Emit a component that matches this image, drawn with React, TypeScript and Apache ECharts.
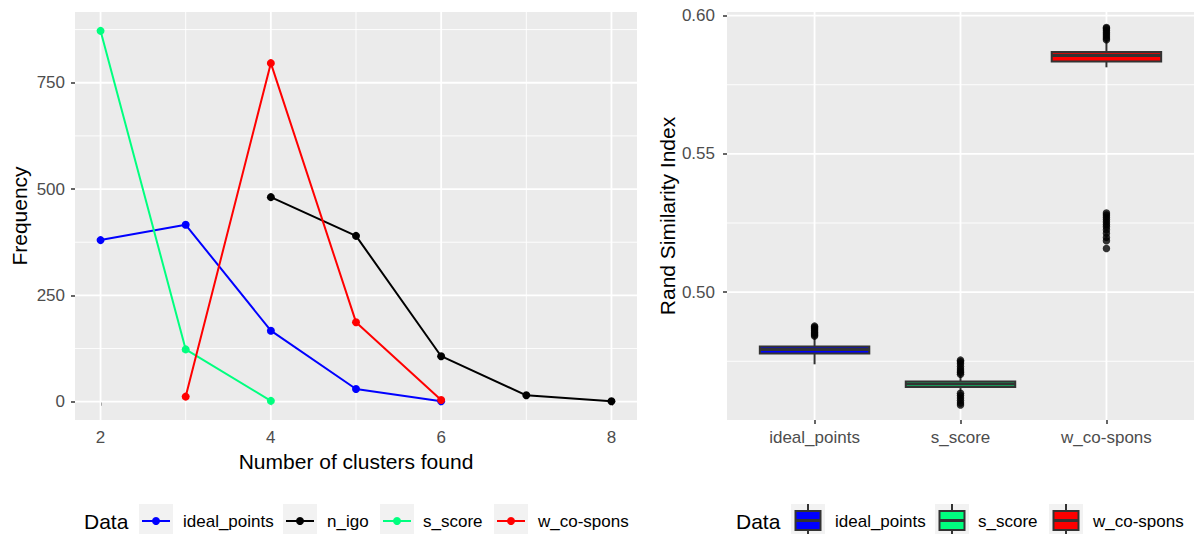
import React, { useEffect, useRef } from "react";
import * as echarts from "echarts";

// ---------- Left panel data (frequency of number of clusters found) ----------
const idealPointsX = [2, 3, 4, 5, 6];
const idealPointsFreq = [380, 416, 167, 30, 1];
const nIgoX = [4, 5, 6, 7, 8];
const nIgoFreq = [481, 390, 107, 15, 1];
const sScoreX = [2, 3, 4];
const sScoreFreq = [872, 123, 2];
const wCoSponsX = [3, 4, 5, 6];
const wCoSponsFreq = [12, 796, 187, 4];

const lineNames = ["ideal_points", "n_igo", "s_score", "w_co-spons"];
const lineColors = ["#0000FF", "#000000", "#00FF7F", "#FF0000"];

// ---------- Right panel data (Rand similarity index boxplots) ----------
const boxCategories = ["ideal_points", "s_score", "w_co-spons"];
const boxColors = ["#0000FF", "#00FF7F", "#FF0000"];
const whiskerLow = [0.4739, 0.464, 0.5813];
const quartile1 = [0.4778, 0.4657, 0.58337];
const medians = [0.47925, 0.46678, 0.58565];
const quartile3 = [0.48033, 0.46768, 0.5868];
const whiskerHigh = [0.4838, 0.47, 0.5911];
const idealOutliers = [0.4841, 0.4846, 0.4851, 0.4856, 0.4862, 0.4868, 0.4873, 0.4877];
const sScoreOutliers = [0.4703, 0.4709, 0.4715, 0.4722, 0.4731, 0.4741, 0.4748, 0.4754, 0.4634, 0.4626, 0.4617, 0.4608, 0.4599, 0.4592];
const wCoSponsOutliers = [0.5913, 0.5919, 0.5926, 0.5933, 0.594, 0.5947, 0.5953, 0.5957, 0.5286, 0.5279, 0.5271, 0.5263, 0.5254, 0.5245, 0.5236, 0.5226, 0.5213, 0.5198, 0.5186, 0.5158];

// ---------- Axis breaks ----------
const leftXTicks = [2, 4, 6, 8];
const leftXMinor = [3, 5, 7];
const leftYTicks = [0, 250, 500, 750];
const leftYMinor = [125, 375, 625, 875];
const rightXTicks = [1, 2, 3];
const rightYTicks = [0.5, 0.55, 0.6];
const rightYMinor = [0.475, 0.525, 0.575];

const FONT = "'Liberation Sans', Arial, sans-serif";
const TICK_COLOR = "#4D4D4D";

function gridData(xMajor: number[], xMinor: number[], yMajor: number[], yMinor: number[]) {
  const d: number[][] = [];
  xMinor.forEach((v) => d.push([0, v, 0]));
  yMinor.forEach((v) => d.push([1, v, 0]));
  xMajor.forEach((v) => d.push([0, v, 1]));
  yMajor.forEach((v) => d.push([1, v, 1]));
  return d;
}

function gridRender(refY: number, refX: number) {
  return (params: any, api: any) => {
    const cs = params.coordSys;
    const dim = api.value(0);
    const v = api.value(1);
    const major = api.value(2) === 1;
    const lw = major ? 1.8 : 0.9;
    if (dim === 0) {
      const x = api.coord([v, refY])[0];
      return {
        type: "line",
        shape: { x1: x, y1: cs.y, x2: x, y2: cs.y + cs.height },
        style: { stroke: "#FFFFFF", lineWidth: lw },
      };
    }
    const y = api.coord([refX, v])[1];
    return {
      type: "line",
      shape: { x1: cs.x, y1: y, x2: cs.x + cs.width, y2: y },
      style: { stroke: "#FFFFFF", lineWidth: lw },
    };
  };
}

export default function App() {
  const ref = useRef<HTMLDivElement>(null);

  useEffect(() => {
    if (!ref.current) return;
    const chart = echarts.init(ref.current, undefined, { renderer: "svg" });

    const lineXs = [idealPointsX, nIgoX, sScoreX, wCoSponsX];
    const lineYs = [idealPointsFreq, nIgoFreq, sScoreFreq, wCoSponsFreq];

    const lineSeries = lineNames.map((name, i) => ({
      name,
      type: "line",
      xAxisIndex: 0,
      yAxisIndex: 0,
      data: lineXs[i].map((x, j) => [x, lineYs[i][j]]),
      symbol: "circle",
      symbolSize: 8,
      showSymbol: true,
      lineStyle: { color: lineColors[i], width: 2 },
      itemStyle: { color: lineColors[i] },
      z: 3,
      silent: true,
    }));

    const boxData = boxCategories.map((_, i) => [
      i + 1,
      whiskerLow[i],
      quartile1[i],
      medians[i],
      quartile3[i],
      whiskerHigh[i],
      i,
    ]);

    const outlierData: number[][] = [];
    idealOutliers.forEach((v) => outlierData.push([1, v]));
    sScoreOutliers.forEach((v) => outlierData.push([2, v]));
    wCoSponsOutliers.forEach((v) => outlierData.push([3, v]));

    const axisTickStyle = { show: true, length: 4, lineStyle: { color: "#333333", width: 1.5 } };

    // legend graphics
    const graphics: any[] = [];
    const legY = 521;
    graphics.push({
      type: "text",
      x: 84,
      y: legY,
      style: { text: "Data", font: `21px ${FONT}`, fill: "#000", verticalAlign: "middle" },
    });
    const lKeyX = [139, 283, 380, 494];
    const lTextX = [183, 327, 423, 538];
    lineNames.forEach((name, i) => {
      graphics.push({ type: "rect", shape: { x: lKeyX[i], y: 504, width: 34, height: 34 }, style: { fill: "#F2F2F2" } });
      graphics.push({
        type: "line",
        shape: { x1: lKeyX[i] + 3, y1: legY, x2: lKeyX[i] + 31, y2: legY },
        style: { stroke: lineColors[i], lineWidth: 2 },
      });
      graphics.push({ type: "circle", shape: { cx: lKeyX[i] + 17, cy: legY, r: 4 }, style: { fill: lineColors[i] } });
      graphics.push({
        type: "text",
        x: lTextX[i],
        y: legY,
        style: { text: name, font: `17px ${FONT}`, fill: "#000", verticalAlign: "middle" },
      });
    });

    graphics.push({
      type: "text",
      x: 736,
      y: legY,
      style: { text: "Data", font: `21px ${FONT}`, fill: "#000", verticalAlign: "middle" },
    });
    const rKeyX = [791, 935, 1049];
    const rTextX = [835, 978, 1093];
    boxCategories.forEach((name, i) => {
      const kx = rKeyX[i];
      graphics.push({ type: "rect", shape: { x: kx, y: 504, width: 34, height: 34 }, style: { fill: "#F2F2F2" } });
      graphics.push({
        type: "line",
        shape: { x1: kx + 17, y1: 504, x2: kx + 17, y2: 538 },
        style: { stroke: "#333333", lineWidth: 2 },
      });
      graphics.push({
        type: "rect",
        shape: { x: kx + 4.5, y: 511, width: 25, height: 19 },
        style: { fill: boxColors[i], stroke: "#333333", lineWidth: 2 },
      });
      graphics.push({
        type: "line",
        shape: { x1: kx + 4.5, y1: legY - 0.5, x2: kx + 29.5, y2: legY - 0.5 },
        style: { stroke: "#333333", lineWidth: 3 },
      });
      graphics.push({
        type: "text",
        x: rTextX[i],
        y: legY,
        style: { text: name, font: `17px ${FONT}`, fill: "#000", verticalAlign: "middle" },
      });
    });

    const option: any = {
      animation: false,
      textStyle: { fontFamily: FONT },
      grid: [
        { left: 75, top: 12, width: 562, height: 408, show: true, backgroundColor: "#EBEBEB", borderWidth: 0 },
        { left: 727, top: 12, width: 467, height: 408, show: true, backgroundColor: "#EBEBEB", borderWidth: 0 },
      ],
      xAxis: [
        {
          gridIndex: 0,
          type: "value",
          min: 1.7,
          max: 8.3,
          axisLine: { show: false },
          splitLine: { show: false },
          axisTick: { ...axisTickStyle, customValues: leftXTicks },
          axisLabel: { customValues: leftXTicks, color: TICK_COLOR, fontSize: 17, margin: 9, fontFamily: FONT },
          name: "Number of clusters found",
          nameLocation: "middle",
          nameGap: 28,
          nameTextStyle: { color: "#000", fontSize: 21, fontFamily: FONT },
        },
        {
          gridIndex: 1,
          type: "value",
          min: 0.4,
          max: 3.6,
          axisLine: { show: false },
          splitLine: { show: false },
          axisTick: { ...axisTickStyle, customValues: rightXTicks },
          axisLabel: {
            customValues: rightXTicks,
            color: TICK_COLOR,
            fontSize: 17,
            margin: 9,
            fontFamily: FONT,
            formatter: (v: number) => boxCategories[Math.round(v) - 1] ?? "",
          },
        },
      ],
      yAxis: [
        {
          gridIndex: 0,
          type: "value",
          min: -43,
          max: 916.3,
          axisLine: { show: false },
          splitLine: { show: false },
          axisTick: { ...axisTickStyle, customValues: leftYTicks },
          axisLabel: { customValues: leftYTicks, color: TICK_COLOR, fontSize: 17, margin: 10, fontFamily: FONT },
          name: "Frequency",
          nameLocation: "middle",
          nameGap: 45,
          nameTextStyle: { color: "#000", fontSize: 21, fontFamily: FONT },
        },
        {
          gridIndex: 1,
          type: "value",
          min: 0.45376,
          max: 0.6013,
          axisLine: { show: false },
          splitLine: { show: false },
          axisTick: { ...axisTickStyle, customValues: rightYTicks },
          axisLabel: {
            customValues: rightYTicks,
            color: TICK_COLOR,
            fontSize: 17,
            margin: 12,
            fontFamily: FONT,
            formatter: (v: number) => v.toFixed(2),
          },
          name: "Rand Similarity Index",
          nameLocation: "middle",
          nameGap: 45,
          nameTextStyle: { color: "#000", fontSize: 21, fontFamily: FONT },
        },
      ],
      series: [
        {
          type: "custom",
          xAxisIndex: 0,
          yAxisIndex: 0,
          data: gridData(leftXTicks, leftXMinor, leftYTicks, leftYMinor),
          renderItem: gridRender(0, 2),
          z: 1,
          silent: true,
        },
        {
          type: "custom",
          xAxisIndex: 1,
          yAxisIndex: 1,
          data: gridData(rightXTicks, [], rightYTicks, rightYMinor),
          renderItem: gridRender(0.5, 1),
          z: 1,
          silent: true,
        },
        ...lineSeries,
        {
          type: "custom",
          xAxisIndex: 1,
          yAxisIndex: 1,
          data: boxData,
          encode: { x: 0, y: [1, 2, 3, 4, 5] },
          z: 3,
          silent: true,
          renderItem: (params: any, api: any) => {
            const x = api.value(0);
            const lo = api.value(1);
            const a = api.value(2);
            const m = api.value(3);
            const b = api.value(4);
            const hi = api.value(5);
            const ci = api.value(6);
            const cx = api.coord([x, m])[0];
            const left = api.coord([x - 0.375, m])[0];
            const right = api.coord([x + 0.375, m])[0];
            const yLo = api.coord([x, lo])[1];
            const yA = api.coord([x, a])[1];
            const yM = api.coord([x, m])[1];
            const yB = api.coord([x, b])[1];
            const yHi = api.coord([x, hi])[1];
            const stroke = "#333333";
            return {
              type: "group",
              children: [
                { type: "line", shape: { x1: cx, y1: yHi, x2: cx, y2: yB }, style: { stroke, lineWidth: 2 } },
                { type: "line", shape: { x1: cx, y1: yA, x2: cx, y2: yLo }, style: { stroke, lineWidth: 2 } },
                {
                  type: "rect",
                  shape: { x: left, y: yB, width: right - left, height: yA - yB },
                  style: { fill: boxColors[ci], stroke, lineWidth: 2 },
                },
                { type: "line", shape: { x1: left, y1: yM, x2: right, y2: yM }, style: { stroke, lineWidth: 3.2 } },
              ],
            };
          },
        },
        {
          type: "scatter",
          xAxisIndex: 1,
          yAxisIndex: 1,
          data: outlierData,
          symbol: "circle",
          symbolSize: 7.5,
          itemStyle: { color: "#000000" },
          z: 4,
          silent: true,
        },
      ],
      graphic: graphics,
    };

    chart.setOption(option);
    return () => {
      chart.dispose();
    };
  }, []);

  return (
    <div
      ref={ref}
      style={{ position: "fixed", left: 0, top: 0, width: 1198, height: 534, background: "#FFFFFF" }}
    />
  );
}
